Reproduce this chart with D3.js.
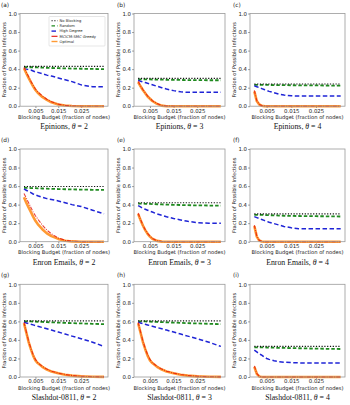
<!DOCTYPE html>
<html>
<head>
<meta charset="utf-8">
<script src="https://cdn.jsdelivr.net/npm/d3@7"></script>
<style>
  body { margin: 0; background: #fff; }
  text { font-family: "DejaVu Sans", sans-serif; }
  .caption { font-family: "Liberation Serif", "Times New Roman", serif; }
</style>
</head>
<body>
<div id="chart"></div>
<script>
// blocking budget (fraction of nodes) sampled along the x axis
var budgets = [0, 0.001, 0.002, 0.003, 0.004, 0.005, 0.006, 0.008, 0.010, 0.012, 0.015, 0.018, 0.021, 0.025, 0.030, 0.035];

var panelLabels = ["(a)", "(b)", "(c)", "(d)", "(e)", "(f)", "(g)", "(h)", "(i)"];
var datasets = ["Epinions", "Epinions", "Epinions", "Enron Emails", "Enron Emails", "Enron Emails", "Slashdot-0811", "Slashdot-0811", "Slashdot-0811"];
var thetas = [2, 3, 4, 2, 3, 4, 2, 3, 4];

var seriesNames = ["No Blocking", "Random", "High Degree", "MCICM-SMC Greedy", "Optimal"];

// one value per panel (flat line)
var noBlocking = [0.43, 0.30, 0.24, 0.595, 0.42, 0.30, 0.605, 0.605, 0.33];

var random = [
    [.42, .42, .42, .42, .42, .42, .418, .416, .414, .412, .41, .408, .406, .404, .402, .40],
    [.29, .29, .29, .29, .29, .289, .288, .287, .286, .285, .284, .283, .282, .281, .28, .28],
    [.23, .23, .23, .23, .23, .23, .229, .228, .228, .227, .226, .225, .225, .224, .223, .222],
    [.58, .58, .58, .579, .578, .577, .576, .574, .572, .570, .568, .566, .564, .562, .56, .558],
    [.41, .41, .41, .409, .408, .407, .406, .404, .402, .40, .398, .396, .394, .392, .39, .39],
    [.29, .29, .29, .289, .288, .287, .286, .284, .282, .28, .278, .277, .276, .275, .274, .272],
    [.60, .60, .60, .599, .598, .597, .596, .594, .592, .59, .587, .584, .581, .578, .574, .57],
    [.60, .60, .60, .599, .598, .597, .596, .594, .592, .59, .587, .584, .581, .578, .574, .57],
    [.32, .32, .32, .32, .319, .318, .317, .316, .315, .314, .312, .31, .308, .306, .304, .302]
];

var highDegree = [
    [.41, .40, .395, .39, .38, .37, .365, .35, .335, .325, .305, .285, .265, .23, .21, .21],
    [.28, .27, .262, .255, .247, .24, .232, .215, .20, .185, .168, .155, .15, .15, .15, .15],
    [.22, .21, .20, .19, .18, .17, .16, .145, .13, .12, .112, .11, .11, .11, .11, .11],
    [.57, .555, .54, .53, .515, .505, .495, .48, .465, .455, .44, .42, .40, .38, .34, .30],
    [.39, .375, .36, .35, .34, .33, .32, .30, .285, .27, .25, .235, .22, .205, .20, .20],
    [.27, .26, .25, .24, .23, .22, .21, .195, .18, .165, .15, .14, .14, .14, .14, .14],
    [.59, .583, .576, .569, .562, .555, .548, .534, .52, .506, .485, .463, .441, .413, .375, .33],
    [.59, .583, .576, .569, .562, .555, .548, .534, .52, .506, .485, .463, .441, .413, .375, .33],
    [.29, .27, .25, .235, .215, .20, .19, .175, .165, .16, .155, .152, .15, .15, .15, .15]
];

var greedy = [
    [.42, .37, .32, .27, .225, .185, .155, .11, .075, .048, .022, .009, .003, 0, 0, 0],
    [.27, .22, .18, .145, .11, .085, .06, .028, .008, .001, 0, 0, 0, 0, 0, 0],
    [.17, .06, .02, .006, .002, 0, 0, 0, 0, 0, 0, 0, 0, 0, 0, 0],
    [.52, .47, .42, .37, .32, .28, .245, .18, .125, .085, .04, .015, .005, .001, 0, 0],
    [.31, .24, .18, .13, .09, .06, .035, .01, .002, 0, 0, 0, 0, 0, 0, 0],
    [.18, .06, .015, .003, 0, 0, 0, 0, 0, 0, 0, 0, 0, 0, 0, 0],
    [.59, .49, .39, .31, .24, .19, .155, .115, .085, .063, .042, .027, .016, .008, .003, .001],
    [.59, .49, .39, .31, .24, .19, .155, .115, .085, .063, .042, .027, .016, .008, .003, .001],
    [.12, .04, .008, .001, 0, 0, 0, 0, 0, 0, 0, 0, 0, 0, 0, 0]
];

var optimal = [
    [.41, .355, .305, .26, .215, .175, .145, .10, .068, .042, .018, .007, .002, 0, 0, 0],
    [.26, .215, .175, .14, .105, .08, .056, .025, .006, 0, 0, 0, 0, 0, 0, 0],
    [.16, .055, .018, .005, .001, 0, 0, 0, 0, 0, 0, 0, 0, 0, 0, 0],
    [.48, .42, .37, .32, .27, .225, .19, .135, .09, .06, .03, .01, .003, 0, 0, 0],
    [.30, .235, .175, .125, .085, .055, .032, .009, .001, 0, 0, 0, 0, 0, 0, 0],
    [.17, .055, .012, .002, 0, 0, 0, 0, 0, 0, 0, 0, 0, 0, 0, 0],
    [.58, .48, .38, .30, .23, .18, .15, .11, .08, .06, .04, .025, .015, .007, .003, .001],
    [.58, .48, .38, .30, .23, .18, .15, .11, .08, .06, .04, .025, .015, .007, .003, .001],
    [.11, .035, .006, 0, 0, 0, 0, 0, 0, 0, 0, 0, 0, 0, 0, 0]
];

var xTicks = [0.005, 0.015, 0.025];
var yTicks = [0, 0.2, 0.4, 0.6, 0.8, 1.0];

// styles per series
var styles = {
    "No Blocking": {color: "#111", width: 1.1, dash: "1.2,1.6"},
    "Random": {color: "#1f8a1f", width: 1.8, dash: "3.5,2"},
    "High Degree": {color: "#1f24d6", width: 1.5, dash: "4.5,2.5"},
    "MCICM-SMC Greedy": {color: "#e3120b", width: 1.1, dash: "4,1.2,1,1.2"},
    "Optimal": {color: "#ff9a33", width: 2.6, dash: null}
};

var colLeft = [20, 134, 250];
var colWidth = [88, 91, 95];
var rowTop = [13.5, 149, 284.3];
var plotH = 92.7;

var svg = d3.select("#chart").append("svg").attr("width", 350).attr("height", 405);

panelLabels.forEach(function (lab, i) {
    var row = Math.floor(i / 3), col = i % 3;
    var w = colWidth[col];
    var g = svg.append("g").attr("transform", "translate(" + colLeft[col] + "," + rowTop[row] + ")");

    var x = d3.scaleLinear().domain([-0.00175, 0.03675]).range([0, w]);
    var y = d3.scaleLinear().domain([0, 1]).range([plotH, 0]);

    // panel letter
    svg.append("text").attr("x", colLeft[col] - (col === 0 ? 19 : 17)).attr("y", rowTop[row] - 7)
        .attr("font-size", 5.8).attr("fill", "#222").text(lab);

    // axes
    var yAxis = g.append("g").call(d3.axisLeft(y).tickValues(yTicks).tickFormat(d3.format(".1f")).tickSize(1.8).tickPadding(1.2));
    var xAxis = g.append("g").attr("transform", "translate(0," + plotH + ")")
        .call(d3.axisBottom(x).tickValues(xTicks).tickFormat(d3.format(".3f")).tickSize(1.8).tickPadding(0.8));
    [yAxis, xAxis].forEach(function (a) {
        a.select(".domain").remove();
        a.selectAll("text").attr("font-size", 5.4).attr("fill", "#222").style("font-family", "DejaVu Sans, sans-serif");
        a.selectAll("line").attr("stroke", "#444").attr("stroke-width", 0.6);
    });

    var line = d3.line().x(function (d) { return x(d[0]); }).y(function (d) { return y(d[1]); });

    g.append("path").datum(budgets.map(function (b, k) { return [b, random[i][k]]; }))
        .attr("d", line).attr("fill", "none").attr("stroke", styles["Random"].color)
        .attr("stroke-width", styles["Random"].width).attr("stroke-dasharray", styles["Random"].dash);

    g.append("path").datum([[budgets[0], noBlocking[i]], [budgets[budgets.length - 1], noBlocking[i]]])
        .attr("d", line).attr("fill", "none").attr("stroke", styles["No Blocking"].color)
        .attr("stroke-width", styles["No Blocking"].width).attr("stroke-dasharray", styles["No Blocking"].dash);

    g.append("path").datum(budgets.map(function (b, k) { return [b, highDegree[i][k]]; }))
        .attr("d", line).attr("fill", "none").attr("stroke", styles["High Degree"].color)
        .attr("stroke-width", styles["High Degree"].width).attr("stroke-dasharray", styles["High Degree"].dash);

    g.append("path").datum(budgets.map(function (b, k) { return [b, optimal[i][k]]; }))
        .attr("d", line).attr("fill", "none").attr("stroke", styles["Optimal"].color)
        .attr("stroke-width", styles["Optimal"].width).attr("stroke-linejoin", "round");

    g.append("path").datum(budgets.map(function (b, k) { return [b, greedy[i][k]]; }))
        .attr("d", line).attr("fill", "none").attr("stroke", styles["MCICM-SMC Greedy"].color)
        .attr("stroke-width", styles["MCICM-SMC Greedy"].width).attr("stroke-dasharray", styles["MCICM-SMC Greedy"].dash)
        .attr("stroke-opacity", 0.8);

    // frame
    g.append("rect").attr("width", w).attr("height", plotH).attr("fill", "none")
        .attr("stroke", "#9a9a9a").attr("stroke-width", 0.8);

    // axis titles
    g.append("text").attr("transform", "translate(" + (-14) + "," + (plotH / 2) + ") rotate(-90)")
        .attr("text-anchor", "middle").attr("font-size", 5.1).attr("fill", "#222")
        .text("Fraction of Possible Infections");
    g.append("text").attr("x", w / 2).attr("y", plotH + 12.6).attr("text-anchor", "middle")
        .attr("font-size", 5.2).attr("fill", "#222").text("Blocking Budget (fraction of nodes)");

    var cap = g.append("text").attr("class", "caption").attr("x", w / 2).attr("y", plotH + 23)
        .attr("text-anchor", "middle").attr("font-size", 7.8).attr("fill", "#111");
    cap.append("tspan").text(datasets[i] + ", ");
    cap.append("tspan").attr("font-style", "italic").text("\u03b8");
    cap.append("tspan").text(" = " + thetas[i]);

    // legend only in the first panel
    if (i === 0) {
        var lg = g.append("g").attr("transform", "translate(29,3)");
        lg.append("rect").attr("width", 56).attr("height", 29.5).attr("fill", "#fff")
            .attr("stroke", "#ccc").attr("stroke-width", 0.5).attr("rx", 0.8);
        seriesNames.forEach(function (name, k) {
            var st = styles[name];
            var yy = 4.2 + k * 5.2;
            lg.append("line").attr("x1", 2.5).attr("x2", 8.5).attr("y1", yy).attr("y2", yy)
                .attr("stroke", st.color).attr("stroke-width", Math.min(st.width, 1.4))
                .attr("stroke-dasharray", name === "MCICM-SMC Greedy" ? null : st.dash);
            lg.append("text").attr("x", 10.5).attr("y", yy + 1.3).attr("font-size", 3.7)
                .attr("fill", "#222").text(name);
        });
    }
});
</script>
</body>
</html>
